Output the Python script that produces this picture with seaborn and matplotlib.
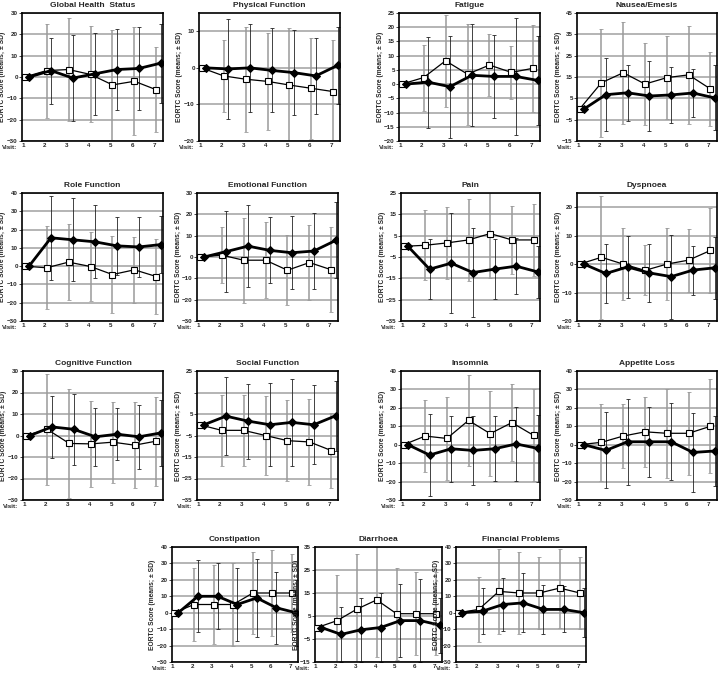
import numpy as np
import pandas as pd
import matplotlib
matplotlib.use('Agg')
import matplotlib.pyplot as plt
import seaborn as sns

# visits 1..7, open squares and filled diamonds, means and SDs
visits = [1, 2, 3, 4, 5, 6, 7]

gh_sq = [0, 3, 3.5, 1.2, -3.7, -2, -6]
gh_sq_sd = [0, 22, 24, 22.5, 25.8, 25.3, 20]
gh_di = [0, 3, -0.5, 1.5, 3.5, 4, 6.5]
gh_di_sd = [0, 15.5, 20, 19.3, 19, 19.4, 18.5]

pf_sq = [0, -2.2, -3.1, -3.7, -4.7, -5.6, -6.5]
pf_sq_sd = [0, 9.8, 14.4, 13.3, 15.5, 13.9, 14]
pf_di = [0, -0.3, 0, -0.7, -1.3, -2.2, 0.7]
pf_di_sd = [0, 13.6, 12, 11.5, 11.6, 10.3, 10.6]

fa_sq = [0, 2.3, 8.2, 3.5, 6.7, 4.1, 5.6]
fa_sq_sd = [0, 11.6, 16.2, 17.8, 11, 9.2, 15.3]
fa_di = [0, 0.7, -0.9, 3.1, 2.7, 2.7, 1.3]
fa_di_sd = [0, 16, 17.9, 18, 14.6, 20.5, 15.5]

ne_sq = [0, 12.3, 17, 11.7, 14.7, 16, 9.4]
ne_sq_sd = [0, 25.4, 24, 19.3, 19.5, 23, 17.2]
ne_di = [0, 6.7, 7.6, 6.1, 6.6, 7.5, 5.2]
ne_di_sd = [0, 17, 13.2, 16.2, 13, 11.3, 15.2]

rf_sq = [0, -0.9, 2.2, -0.2, -4.6, -2, -5.7]
rf_sq_sd = [0, 22.6, 20.9, 18.7, 21, 17.9, 20.3]
rf_di = [0, 15.5, 14.4, 13.3, 11.1, 10.5, 11.8]
rf_di_sd = [0, 23, 22.6, 20, 16, 16.5, 15.7]

ef_sq = [0, 0.9, -1.5, -1.5, -6.2, -2.6, -6]
ef_sq_sd = [0, 13.3, 20, 17.9, 16.4, 17.6, 20]
ef_di = [0, 2.5, 5.1, 3.1, 2, 2.8, 7.8]
ef_di_sd = [0, 18.9, 19.3, 15.5, 17.2, 17.8, 17.8]

pa_sq = [0, 0.5, 1.6, 3, 6, 3, 3]
pa_sq_sd = [0, 16.3, 17, 19.3, 20.8, 15.8, 17]
pa_di = [0, -10.7, -7.9, -12.3, -10.7, -9.3, -12]
pa_di_sd = [0, 14, 23.5, 20.8, 14, 13, 12]

dy_sq = [0, 2.4, 0, -2.2, 0, 1.4, 4.8]
dy_sq_sd = [0, 21.7, 12.7, 8.8, 12.7, 11.1, 15]
dy_di = [0, -3.3, -1, -3.1, -4.4, -2.1, -1.3]
dy_di_sd = [0, 10.2, 11, 10.2, 14.8, 8.6, 11]

cf_sq = [0, 2.8, -3.7, -3.9, -3.1, -4.5, -2.6]
cf_sq_sd = [0, 25.6, 25.5, 20, 18.8, 20, 20.7]
cf_di = [0, 4, 2.9, -0.6, 0.6, -0.6, 1.2]
cf_di_sd = [0, 14.4, 16.6, 13.5, 12.1, 14.8, 15.2]

sf_sq = [0, -2.6, -2.6, -5, -7.4, -8, -12]
sf_sq_sd = [0, 16.5, 16.5, 18.5, 18.7, 20.2, 17.5]
sf_di = [0, 4, 1.7, 0, 1.1, 0, 4.2]
sf_di_sd = [0, 18, 17.4, 19.4, 20.1, 18.4, 16.2]

in_sq = [0, 4.7, 3.4, 13.2, 6, 12, 5.1]
in_sq_sd = [0, 19.5, 22.4, 24.5, 23, 20.8, 25]
in_di = [0, -5.6, -2.2, -3.1, -2.2, 0.4, -2]
in_di_sd = [0, 22, 18, 18.5, 17.6, 20, 18]

al_sq = [0, 1.3, 4.7, 7, 6.2, 6.2, 10]
al_sq_sd = [0, 21, 17.2, 19, 24.2, 22.4, 25.5]
al_di = [0, -3.1, 1.6, 1.6, 1.6, -4.2, -3.4]
al_di_sd = [0, 20.6, 23.2, 19, 20.8, 21.2, 18.8]

co_sq = [0, 5, 5, 5, 12, 12, 12]
co_sq_sd = [0, 22, 24, 25, 25, 26, 24]
co_di = [0, 10, 10, 5, 9, 3, 0]
co_di_sd = [0, 22, 20, 22, 24, 22, 20]

di_sq = [0, 3, 8, 12, 6, 6, 6]
di_sq_sd = [0, 20, 24, 25, 20, 18, 18]
di_di = [0, -3, -1, 0, 3, 3, 1]
di_di_sd = [0, 12, 14, 15, 16, 18, 12]

fp_sq = [0, 2, 13, 12, 12, 15, 12]
fp_sq_sd = [0, 20, 26, 25, 22, 24, 22]
fp_di = [0, 1, 5, 6, 2, 2, 0]
fp_di_sd = [0, 14, 16, 18, 15, 14, 15]

titles = ['Global Health  Status', 'Physical Function', 'Fatigue', 'Nausea/Emesis',
          'Role Function', 'Emotional Function', 'Pain', 'Dyspnoea',
          'Cognitive Function', 'Social Function', 'Insomnia', 'Appetite Loss',
          'Constipation', 'Diarrhoea', 'Financial Problems']

series = [(gh_sq, gh_sq_sd, gh_di, gh_di_sd), (pf_sq, pf_sq_sd, pf_di, pf_di_sd),
          (fa_sq, fa_sq_sd, fa_di, fa_di_sd), (ne_sq, ne_sq_sd, ne_di, ne_di_sd),
          (rf_sq, rf_sq_sd, rf_di, rf_di_sd), (ef_sq, ef_sq_sd, ef_di, ef_di_sd),
          (pa_sq, pa_sq_sd, pa_di, pa_di_sd), (dy_sq, dy_sq_sd, dy_di, dy_di_sd),
          (cf_sq, cf_sq_sd, cf_di, cf_di_sd), (sf_sq, sf_sq_sd, sf_di, sf_di_sd),
          (in_sq, in_sq_sd, in_di, in_di_sd), (al_sq, al_sq_sd, al_di, al_di_sd),
          (co_sq, co_sq_sd, co_di, co_di_sd), (di_sq, di_sq_sd, di_di, di_di_sd),
          (fp_sq, fp_sq_sd, fp_di, fp_di_sd)]

yticks = [list(range(-30, 31, 10)), [-20, -10, 0, 10], list(range(-20, 26, 5)), list(range(-15, 46, 10)),
          list(range(-30, 41, 10)), list(range(-30, 31, 10)), list(range(-35, 26, 10)), list(range(-20, 21, 10)),
          list(range(-30, 31, 10)), list(range(-35, 26, 10)), list(range(-30, 41, 10)), list(range(-30, 41, 10)),
          list(range(-30, 41, 10)), list(range(-15, 36, 10)), list(range(-30, 41, 10))]
ylims = [(-30, 30), (-20, 15), (-20, 25), (-15, 45),
         (-30, 40), (-30, 30), (-35, 25), (-20, 25),
         (-30, 30), (-35, 25), (-30, 40), (-30, 40),
         (-30, 40), (-15, 35), (-30, 40)]

# panel boxes in pixels: left, right, top, bottom
rows = [(13, 141), (193, 321), (371, 500)]
cols = [[(22, 163), (199, 340), (399, 540), (577, 717)],
        [(22, 163), (197, 338), (401, 540), (577, 717)],
        [(23, 163), (197, 338), (401, 540), (577, 717)]]
boxes = []
for r, (t, b) in enumerate(rows):
    for (l, rr) in cols[r]:
        boxes.append((l, rr, t, b))
for (l, rr) in [(172, 298), (315, 442), (456, 586)]:
    boxes.append((l, rr, 547, 662))

sns.set_style('white')
plt.rcParams['font.family'] = ['Liberation Sans', 'DejaVu Sans']
plt.rcParams['font.weight'] = 'bold'

W, H = 718, 678
fig = plt.figure(figsize=(W / 100, H / 100), dpi=100)

for i, (l, rr, t, b) in enumerate(boxes):
    ax = fig.add_axes([l / W, 1 - b / H, (rr - l) / W, (b - t) / H])
    sq, sq_sd, di, di_sd = series[i]
    df = pd.DataFrame({'visit': visits, 'sq': sq, 'sq_sd': sq_sd, 'di': di, 'di_sd': di_sd})
    df['xs'] = df['visit'] + 0.08
    df['xd'] = df['visit'] + 0.28

    for y in yticks[i]:
        ax.axhline(y, color='#b4b4b4', lw=1.4, zorder=0)

    e = df[df['visit'] > 1]
    ax.errorbar(e['xs'], e['sq'], yerr=e['sq_sd'], fmt='none', ecolor='#9a9a9a',
                elinewidth=1.1, capsize=1.5, capthick=0.6, zorder=1)
    ax.errorbar(e['xd'], e['di'], yerr=e['di_sd'], fmt='none', ecolor='#222222',
                elinewidth=0.6, capsize=1.5, capthick=0.6, zorder=1)

    sns.lineplot(data=df, x='xs', y='sq', ax=ax, color='black', lw=0.9, marker='s',
                 markersize=4.5, markerfacecolor='white', markeredgecolor='black',
                 markeredgewidth=0.8, zorder=3)
    sns.lineplot(data=df, x='xd', y='di', ax=ax, color='black', lw=2.0, marker='D',
                 markersize=4.5, markerfacecolor='black', markeredgecolor='black', zorder=4)

    ax.set_xlim(0.96, 7.38)
    ax.set_ylim(*ylims[i])
    ax.set_xticks(visits)
    ax.set_xticklabels([str(v) for v in visits])
    ax.set_yticks(yticks[i])
    labels = [str(v) for v in yticks[i]]
    if titles[i] == 'Social Function':
        labels = [s if s != '15' else '' for s in labels]
    ax.set_yticklabels([s.replace('-', '\u2212') for s in labels])
    ax.tick_params(axis='x', length=0, labelsize=4.5, pad=1.5)
    ax.tick_params(axis='y', length=2, width=0.6, labelsize=4.5, pad=1, left=True)
    for s in ax.spines.values():
        s.set_linewidth(1.2)
        s.set_color('black')
    ax.set_xlabel('')
    ax.set_ylabel('EORTC Score (means; \u00b1 SD)', fontsize=4.8, fontweight='bold')
    ax.yaxis.set_label_coords(-15.5 / (rr - l), 0.5)
    ax.set_title(titles[i], fontsize=6, fontweight='bold', pad=4)
    ax.annotate('Visit:', xy=(0, 0), xycoords='axes fraction', xytext=(-3.5, -5),
                textcoords='offset points', ha='right', va='center', fontsize=4.5,
                fontweight='bold')

fig.savefig('out.png', dpi=100)
